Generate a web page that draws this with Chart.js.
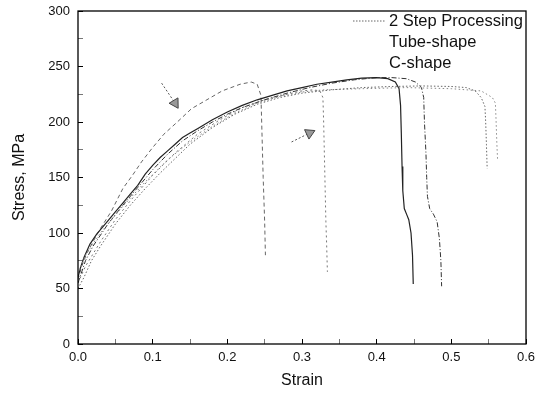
<!DOCTYPE html>
<html>
<head>
<meta charset="utf-8">
<script src="https://cdn.jsdelivr.net/npm/chart.js@4/dist/chart.umd.min.js"></script>
<style>
  html, body { margin: 0; padding: 0; background: #fff; }
  #wrap { width: 541px; height: 393px; }
</style>
</head>
<body>
<div id="wrap"><canvas id="chart" width="541" height="393"></canvas></div>
<script>
// legend names (top right, inside the frame)
const seriesNames = ['2 Step Processing', 'Tube-shape', 'C-shape']

// 2 Step Processing, two specimens (long plateau near 232 MPa)
const stepStrainA = [0, 0.008, 0.018, 0.03, 0.05, 0.07, 0.09, 0.11, 0.13, 0.15, 0.18, 0.21, 0.24, 0.27, 0.30, 0.34, 0.38, 0.42, 0.46, 0.50, 0.52, 0.532, 0.54, 0.545, 0.546, 0.547, 0.548]
const stepStressA = [50, 60, 75, 88, 108, 125, 140, 154, 167, 180, 195, 207, 216, 222, 226, 229, 231, 232, 232.5, 232, 231, 228, 222, 214, 200, 180, 158]
const stepStrainB = [0, 0.01, 0.03, 0.06, 0.09, 0.12, 0.15, 0.18, 0.21, 0.24, 0.27, 0.30, 0.33, 0.38, 0.44, 0.50, 0.54, 0.555, 0.559, 0.560, 0.561, 0.562]
const stepStressB = [63, 80, 100, 124, 146, 166, 182, 196, 208, 217, 223, 227, 229, 230, 231, 230, 228, 222, 217, 200, 180, 165]

// Tube-shape, two specimens (peak about 240 MPa, break with a shoulder)
const tubeStrainA = [0, 0.003, 0.008, 0.016, 0.025, 0.04, 0.05, 0.06, 0.07, 0.08, 0.09, 0.10, 0.11, 0.12, 0.13, 0.14, 0.15, 0.16, 0.18, 0.20, 0.22, 0.24, 0.26, 0.28, 0.30, 0.32, 0.34, 0.36, 0.38, 0.40, 0.415, 0.425, 0.43, 0.432, 0.433, 0.434, 0.435, 0.437, 0.44, 0.443, 0.446, 0.448, 0.449]
const tubeStressA = [60, 68, 78, 90, 99, 111, 119, 127, 135, 143, 153, 161, 168, 174, 180, 186, 190, 194, 202, 209, 215, 220, 224, 228, 231, 234, 236, 238, 239.5, 240, 239, 236, 230, 215, 190, 160, 138, 122, 117, 112, 100, 80, 54]
const tubeStrainB = [0, 0.01, 0.02, 0.04, 0.06, 0.08, 0.10, 0.12, 0.14, 0.16, 0.18, 0.20, 0.22, 0.25, 0.28, 0.31, 0.34, 0.37, 0.40, 0.42, 0.44, 0.452, 0.46, 0.463, 0.464, 0.466, 0.467, 0.468, 0.471, 0.476, 0.481, 0.484, 0.486, 0.487]
const tubeStressB = [55, 75, 88, 108, 125, 141, 157, 171, 183, 192, 200, 207, 213, 220, 226, 231, 235, 238, 240, 240, 239, 236, 231, 222, 200, 172, 150, 133, 122, 117, 110, 95, 75, 52]

// C-shape, two specimens (early fracture)
const cStrainA = [0, 0.005, 0.012, 0.02, 0.03, 0.045, 0.06, 0.073, 0.085, 0.10, 0.115, 0.133, 0.152, 0.17, 0.193, 0.217, 0.232, 0.24, 0.245, 0.246, 0.248, 0.25, 0.251]
const cStressA = [58, 70, 82, 92, 104, 120, 140, 152, 164, 177, 189, 200, 212, 219, 228, 234, 236, 234, 224, 200, 150, 110, 80]
const cStrainB = [0, 0.01, 0.03, 0.05, 0.07, 0.10, 0.13, 0.16, 0.19, 0.22, 0.25, 0.28, 0.30, 0.315, 0.324, 0.328, 0.329, 0.330, 0.331, 0.332, 0.333, 0.334]
const cStressB = [55, 70, 92, 112, 129, 152, 172, 189, 202, 213, 220, 225, 228, 229, 228, 222, 200, 170, 140, 110, 90, 65]

// the two arrows drawn on the figure (tail -> head)
const arrowAStrain = [0.112, 0.122, 0.130]
const arrowAStress = [235, 225, 217]
const arrowBStrain = [0.286, 0.298, 0.310]
const arrowBStress = [182, 186, 190]

const xTicks = { min: 0, max: 0.6, step: 0.05 }
const yTicks = { min: 0, max: 300, step: 25 }

const pts = (xs, ys) => xs.map((x, i) => ({ x: x, y: ys[i] }))

const curve = (name, xs, ys, color, dash, width) => ({
  label: name,
  data: pts(xs, ys),
  showLine: true,
  borderColor: color,
  borderWidth: width,
  borderDash: dash,
  pointRadius: 0,
  tension: 0,
  fill: false
})

const arrow = (xs, ys, rot) => ({
  label: 'arrow',
  data: pts(xs, ys),
  showLine: true,
  borderColor: '#555',
  borderWidth: 1,
  borderDash: [2, 2],
  pointStyle: 'triangle',
  rotation: rot,
  pointRadius: ctx => (ctx.dataIndex === xs.length - 1 ? 6 : 0),
  pointBackgroundColor: '#999',
  pointBorderColor: '#444',
  pointBorderWidth: 1,
  fill: false
})

// frame around the plot area
const framePlugin = {
  id: 'frame',
  afterDatasetsDraw(chart) {
    const a = chart.chartArea
    const ctx = chart.ctx
    ctx.save()
    ctx.strokeStyle = '#000'
    ctx.lineWidth = 1.3
    ctx.strokeRect(a.left, a.top, a.right - a.left, a.bottom - a.top)
    ctx.restore()
  }
}

// legend as in the original: only the first entry shows a line sample
const cornerLegend = {
  id: 'cornerLegend',
  afterDraw(chart) {
    const ctx = chart.ctx
    ctx.save()
    ctx.font = '16.5px "Liberation Sans", Arial, sans-serif'
    ctx.fillStyle = '#111'
    ctx.textBaseline = 'middle'
    seriesNames.forEach((name, i) => {
      const y = 21 + i * 21
      if (i === 0) {
        ctx.strokeStyle = '#666'
        ctx.lineWidth = 1
        ctx.setLineDash([1.5, 1.5])
        ctx.beginPath()
        ctx.moveTo(353, y)
        ctx.lineTo(385, y)
        ctx.stroke()
        ctx.setLineDash([])
      }
      ctx.fillText(name, 389, y)
    })
    ctx.restore()
  }
}

const tickFont = { family: '"Liberation Sans", Arial, sans-serif', size: 13, lineHeight: 1 }
const titleFont = { family: '"Liberation Sans", Arial, sans-serif', size: 16, lineHeight: 1 }

new Chart(document.getElementById('chart'), {
  type: 'scatter',
  data: {
    datasets: [
      curve(seriesNames[0], stepStrainA, stepStressA, '#666', [1.5, 2], 1),
      curve(seriesNames[0], stepStrainB, stepStressB, '#888', [1.5, 2.5], 1),
      curve(seriesNames[1], tubeStrainA, tubeStressA, '#222', [], 1.2),
      curve(seriesNames[1], tubeStrainB, tubeStressB, '#333', [5, 2, 1, 2], 1),
      curve(seriesNames[2], cStrainA, cStressA, '#666', [4, 3], 1),
      curve(seriesNames[2], cStrainB, cStressB, '#777', [2, 3], 1),
      arrow(arrowAStrain, arrowAStress, 149),
      arrow(arrowBStrain, arrowBStress, 65)
    ]
  },
  options: {
    responsive: false,
    animation: false,
    layout: { padding: { left: 0, top: 11, right: 15, bottom: 0 } },
    plugins: {
      legend: { display: false },
      tooltip: { enabled: false }
    },
    scales: {
      x: {
        type: 'linear',
        min: xTicks.min,
        max: xTicks.max,
        afterFit: s => {
          s.height = 49
          s.paddingLeft = 0
          s.paddingRight = 0
        },
        grid: { drawOnChartArea: false, tickLength: -5, color: '#000', tickColor: ctx => (ctx.index % 2 ? '#777' : '#000') },
        border: { display: false },
        ticks: {
          stepSize: xTicks.step,
          padding: 12,
          color: '#111',
          font: tickFont,
          maxRotation: 0,
          autoSkip: false,
          callback: (v, i) => (i % 2 ? '' : v.toFixed(1))
        },
        title: {
          display: true,
          text: 'Strain',
          color: '#111',
          font: titleFont,
          padding: { top: 0, bottom: 4 }
        }
      },
      y: {
        type: 'linear',
        min: yTicks.min,
        max: yTicks.max,
        afterFit: s => {
          s.width = 78
          s.paddingTop = 0
          s.paddingBottom = 0
        },
        grid: { drawOnChartArea: false, tickLength: -5, color: '#000', tickColor: ctx => (ctx.index % 2 ? '#777' : '#000') },
        border: { display: false },
        ticks: {
          stepSize: yTicks.step,
          padding: 13,
          color: '#111',
          font: tickFont,
          autoSkip: false,
          callback: (v, i) => (i % 2 ? '' : v)
        },
        title: {
          display: true,
          text: 'Stress, MPa',
          color: '#111',
          font: titleFont,
          padding: { top: 12, bottom: 0 }
        }
      }
    }
  },
  plugins: [framePlugin, cornerLegend]
})
</script>
</body>
</html>
